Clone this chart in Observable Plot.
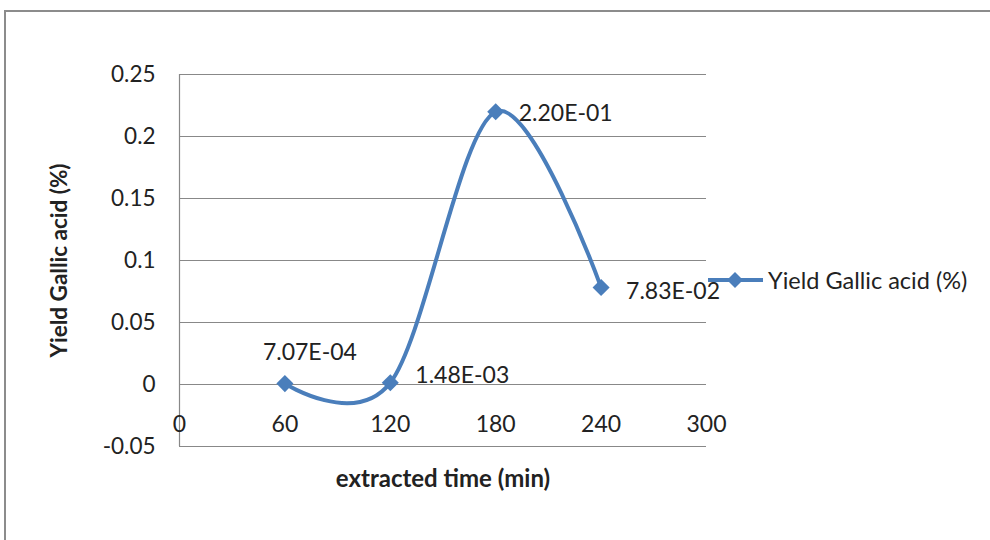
<!DOCTYPE html>
<html>
<head>
<meta charset="utf-8">
<script src="https://cdn.jsdelivr.net/npm/d3@7"></script>
<script src="https://cdn.jsdelivr.net/npm/@observablehq/plot@0.6"></script>
<style>
  html, body { margin: 0; padding: 0; background: #fff; }
  #wrap { position: relative; width: 990px; height: 540px; overflow: hidden; font-family: Lato, "Open Sans", sans-serif; }
  #frame { position: absolute; left: 4px; top: 10px; width: 1000px; height: 600px; border: 2px solid #8c8c8c; box-sizing: border-box; }
  #chart { position: absolute; left: 0; top: 0; }
  #legend { position: absolute; left: 708px; top: 265px; display: flex; align-items: center; font-size: 23.5px; color: #222; white-space: nowrap; }
  g[aria-label="y-axis label"] text, g[aria-label="x-axis label"] text { font-weight: bold; }
</style>
</head>
<body>
<div id="wrap">
  <div id="frame"></div>
  <div id="chart"></div>
  <div id="legend"></div>
</div>
<script>
const times = [60, 120, 180, 240];
const yieldValues = [0.000707, 0.00148, 0.220, 0.0783];
const xTicks = [0, 60, 120, 180, 240, 300];
const yTicks = [-0.05, 0, 0.05, 0.1, 0.15, 0.2, 0.25];
const seriesName = "Yield Gallic acid (%)";

const color = "#4a7ebb";
const excelExp = v => {
  const [m, e] = v.toExponential(2).split("e");
  const n = parseInt(e, 10);
  return m + "E" + (n < 0 ? "-" : "+") + String(Math.abs(n)).padStart(2, "0");
};
const data = times.map((t, i) => ({t, v: yieldValues[i], label: excelExp(yieldValues[i])}));
const fs = 23;

const chart = Plot.plot({
  width: 990,
  height: 540,
  marginLeft: 179,
  marginRight: 284,
  marginTop: 74,
  marginBottom: 94,
  style: {fontFamily: "Lato, 'Open Sans', sans-serif", fontSize: fs + "px", color: "#222", background: "transparent"},
  x: {domain: [0, 300]},
  y: {domain: [-0.05, 0.25]},
  marks: [
    Plot.ruleY(yTicks, {stroke: "#888", strokeWidth: 1.2, strokeOpacity: 1}),
    Plot.ruleX([0], {stroke: "#888", strokeWidth: 1.2, strokeOpacity: 1}),
    Plot.axisY({ticks: yTicks, tickSize: 0, tickPadding: 24, tickFormat: d => String(d),
      label: "Yield Gallic acid (%)", labelAnchor: "center", labelArrow: "none", labelOffset: 128, fontSize: fs - 0.5}),
    Plot.axisX({ticks: xTicks, tickSize: 0, tickPadding: 0, dy: -31, tickFormat: d => String(d),
      label: null, fontSize: fs}),
    Plot.axisX({ticks: [], label: "extracted time (min)", labelAnchor: "center", labelArrow: "none", labelOffset: 40, fontSize: fs + 1}),
    Plot.line(data, {x: "t", y: "v", stroke: color, strokeWidth: 4, curve: "cardinal", tension: 0}),
    Plot.dot(data, {x: "t", y: "v", symbol: "square", rotate: 45, fill: color, r: 6.8}),
    Plot.text(data.filter((d, i) => i === 0), {x: "t", y: "v", text: "label", dx: 25, dy: -31, textAnchor: "middle", fontSize: fs, fill: "#222"}),
    Plot.text(data.filter((d, i) => i === 1), {x: "t", y: "v", text: "label", dx: 25, dy: -7, textAnchor: "start", fontSize: fs, fill: "#222"}),
    Plot.text(data.filter((d, i) => i === 2), {x: "t", y: "v", text: "label", dx: 23, dy: 2, textAnchor: "start", fontSize: fs, fill: "#222"}),
    Plot.text(data.filter((d, i) => i === 3), {x: "t", y: "v", text: "label", dx: 25, dy: 4, textAnchor: "start", fontSize: fs, fill: "#222"})
  ]
});
document.getElementById("chart").appendChild(chart);

const legend = document.getElementById("legend");
legend.innerHTML = `<svg width="58" height="30" style="margin-right:2px"><line x1="0" y1="15" x2="55" y2="15" stroke="${color}" stroke-width="4"/><path d="M27,7 L35,15 L27,23 L19,15 Z" fill="${color}"/></svg><span>${seriesName}</span>`;
</script>
</body>
</html>
